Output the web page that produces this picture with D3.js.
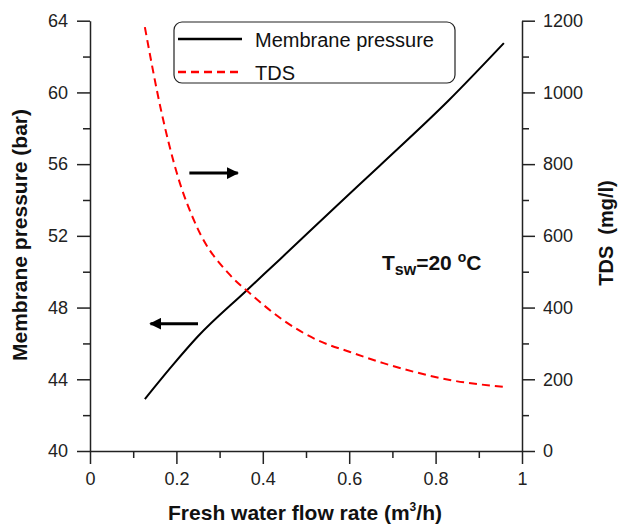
<!DOCTYPE html>
<html>
<head>
<meta charset="utf-8">
<script src="https://cdn.jsdelivr.net/npm/d3@7/dist/d3.min.js"></script>
<style>
    body { margin: 0; background: #fff; }
    svg { font-family: Arial, "Liberation Sans", sans-serif; }
    .axis text { font-size: 18px; fill: #222; }
    .axis path, .axis line { stroke: #222; stroke-width: 1.5px; }
</style>
</head>
<body>
<div id="chart"></div>
<script>
// fresh water flow rate (m3/h) vs membrane pressure (bar)
var flowP = [0.127, 0.19, 0.25, 0.36, 0.44, 0.57, 0.67, 0.83, 0.958];
var pressure = [42.9, 44.75, 46.4, 48.9, 50.7, 53.65, 55.9, 59.55, 62.75];

// fresh water flow rate (m3/h) vs TDS (mg/l)
var flowT = [0.127, 0.166, 0.201, 0.247, 0.324, 0.37, 0.447, 0.525, 0.602, 0.679, 0.756, 0.833, 0.957];
var tds = [1182, 942, 775, 626, 491, 440, 365, 310, 276, 245, 219, 198, 179];

var xTicks = [0, 0.2, 0.4, 0.6, 0.8, 1];
var xMinor = [0.1, 0.3, 0.5, 0.7, 0.9];
var pTicks = [40, 44, 48, 52, 56, 60, 64];
var pMinor = [42, 46, 50, 54, 58, 62];
var tdsTicks = [0, 200, 400, 600, 800, 1000, 1200];
var tdsMinor = [100, 300, 500, 700, 900, 1100];

// arrows in data units [x1, x2, pressure]
var arrowRight = [0.23, 0.342, 55.5];
var arrowLeft = [0.25, 0.14, 47.1];

var svgWidth = 618,
    svgHeight = 524,
    margin = { top: 20.7, right: 96, bottom: 73, left: 90 },
    width = svgWidth - margin.left - margin.right,
    height = svgHeight - margin.top - margin.bottom;

var svg = d3.select("#chart").append("svg")
    .attr("width", svgWidth)
    .attr("height", svgHeight);

var defs = svg.append("defs");
defs.append("marker")
    .attr("id", "head")
    .attr("viewBox", "0 0 10 10")
    .attr("refX", 9).attr("refY", 5)
    .attr("markerWidth", 4).attr("markerHeight", 4)
    .attr("markerUnits", "strokeWidth")
    .attr("orient", "auto")
    .append("path")
    .attr("d", "M0,0L10,5L0,10z")
    .attr("fill", "#000");

var g = svg.append("g")
    .attr("transform", `translate(${margin.left},${margin.top})`);

var x = d3.scaleLinear().domain([0, 1]).range([0, width]);
var yP = d3.scaleLinear().domain([40, 64]).range([height, 0]);
var yT = d3.scaleLinear().domain([0, 1200]).range([height, 0]);

// minor ticks
g.append("g").attr("class", "axis")
    .attr("transform", `translate(0,${height})`)
    .call(d3.axisBottom(x).tickValues(xMinor).tickSize(7).tickFormat(""))
    .select(".domain").remove();
g.append("g").attr("class", "axis")
    .call(d3.axisLeft(yP).tickValues(pMinor).tickSize(7).tickFormat(""))
    .select(".domain").remove();
g.append("g").attr("class", "axis")
    .attr("transform", `translate(${width},0)`)
    .call(d3.axisRight(yT).tickValues(tdsMinor).tickSize(7).tickFormat(""))
    .select(".domain").remove();

// major axes
g.append("g").attr("class", "axis")
    .attr("transform", `translate(0,${height})`)
    .call(d3.axisBottom(x).tickValues(xTicks).tickSize(13).tickSizeOuter(0).tickPadding(8)
        .tickFormat(d => d3.format("")(d)));

g.append("g").attr("class", "axis")
    .call(d3.axisLeft(yP).tickValues(pTicks).tickSize(13).tickSizeOuter(0).tickPadding(9)
        .tickFormat(d3.format("d")));

g.append("g").attr("class", "axis")
    .attr("transform", `translate(${width},0)`)
    .call(d3.axisRight(yT).tickValues(tdsTicks).tickSize(13).tickSizeOuter(0).tickPadding(8)
        .tickFormat(d3.format("d")));

// lines
var pLine = d3.line()
    .curve(d3.curveMonotoneX)
    .x((d, i) => x(flowP[i]))
    .y(d => yP(d));

var tLine = d3.line()
    .curve(d3.curveMonotoneX)
    .x((d, i) => x(flowT[i]))
    .y(d => yT(d));

g.append("path")
    .attr("d", pLine(pressure))
    .attr("fill", "none")
    .attr("stroke", "#000")
    .attr("stroke-width", 2);

g.append("path")
    .attr("d", tLine(tds))
    .attr("fill", "none")
    .attr("stroke", "#ff0000")
    .attr("stroke-width", 2)
    .attr("stroke-dasharray", "8,5");

// arrows
[arrowRight, arrowLeft].forEach(function (a) {
    g.append("line")
        .attr("x1", x(a[0])).attr("x2", x(a[1]))
        .attr("y1", yP(a[2])).attr("y2", yP(a[2]))
        .attr("stroke", "#000")
        .attr("stroke-width", 3)
        .attr("marker-end", "url(#head)");
});

// annotation
var ann = svg.append("text")
    .attr("x", 382).attr("y", 270)
    .attr("font-size", 21)
    .attr("font-weight", "bold")
    .attr("fill", "#111")
    .style("white-space", "pre");
ann.append("tspan").text("T");
ann.append("tspan").attr("font-size", 16).attr("dy", 5).text("sw");
ann.append("tspan").attr("dy", -5).text("=20 ");
ann.append("tspan").attr("font-size", 14).attr("dy", -8).text("o");
ann.append("tspan").attr("dy", 8).text("C");

// axis titles
var xt = svg.append("text")
    .attr("x", 305).attr("y", 520)
    .attr("text-anchor", "middle")
    .attr("font-size", 21)
    .attr("font-weight", "bold")
    .attr("fill", "#111");
xt.append("tspan").text("Fresh water flow rate (m");
xt.append("tspan").attr("font-size", 12).attr("dy", -9).text("3");
xt.append("tspan").attr("dy", 9).text("/h)");

svg.append("text")
    .attr("transform", "translate(27,235) rotate(-90)")
    .attr("text-anchor", "middle")
    .attr("font-size", 21)
    .attr("font-weight", "bold")
    .attr("fill", "#111")
    .text("Membrane pressure (bar)");

svg.append("text")
    .attr("transform", "translate(613,233) rotate(-90)")
    .attr("text-anchor", "middle")
    .attr("font-size", 20)
    .attr("font-weight", "bold")
    .attr("fill", "#111")
    .style("white-space", "pre")
    .text("TDS  (mg/l)");

// legend
var legend = svg.append("g").attr("class", "legend");
legend.append("rect")
    .attr("x", 174).attr("y", 22)
    .attr("width", 281).attr("height", 61)
    .attr("rx", 8)
    .attr("fill", "#fff")
    .attr("stroke", "#222")
    .attr("stroke-width", 1.2);

var legend_keys = [
    { name: "Membrane pressure", color: "#000", dash: null, y: 39 },
    { name: "TDS", color: "#ff0000", dash: "8,5", y: 72 }
];
var item = legend.selectAll(".item").data(legend_keys)
    .enter().append("g")
    .attr("class", "item");
item.append("line")
    .attr("x1", 178).attr("x2", 242)
    .attr("y1", d => d.y).attr("y2", d => d.y)
    .attr("stroke", d => d.color)
    .attr("stroke-width", 2.5)
    .attr("stroke-dasharray", d => d.dash);
item.append("text")
    .attr("x", 255)
    .attr("y", d => d.y + 7.5)
    .attr("font-size", 20)
    .attr("fill", "#111")
    .text(d => d.name);
</script>
</body>
</html>
